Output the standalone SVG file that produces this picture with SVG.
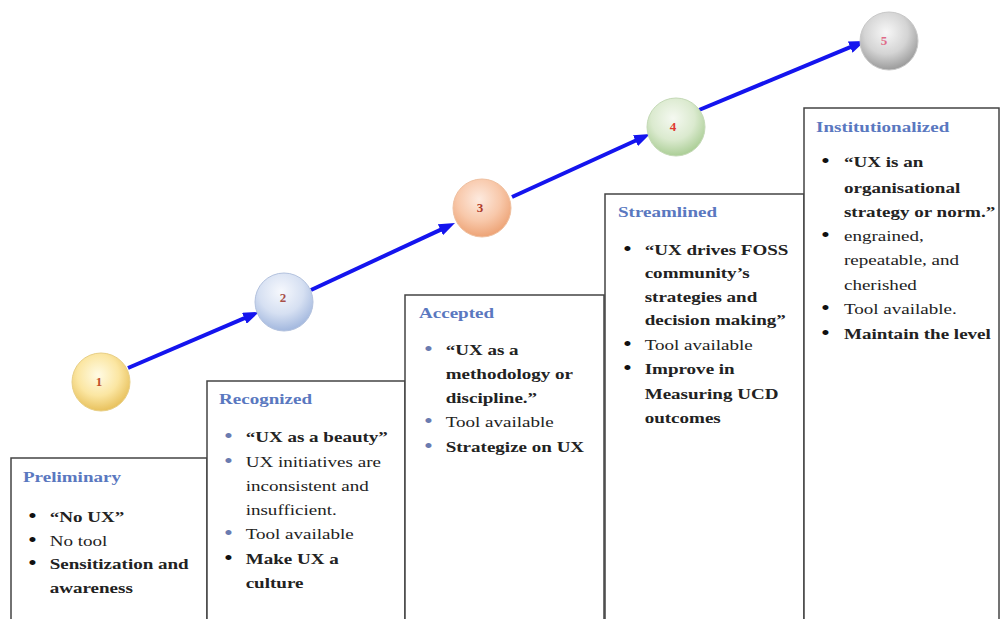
<svg xmlns="http://www.w3.org/2000/svg" width="1000" height="619" viewBox="0 0 1000 619">
  <style>
    .box { fill: #ffffff; stroke: #444444; stroke-width: 1.5; }
    .title { font-family: "Liberation Serif", "Times New Roman", serif; font-size: 15px; font-weight: bold; fill: #5a78c0; }
    .t { font-family: "Liberation Serif", "Times New Roman", serif; font-size: 15px; fill: #222222; }
    .b { font-weight: bold; }
    .dot { font-family: "Liberation Serif", "Times New Roman", serif; font-size: 20px; fill: #111111; }
    .dotb { fill: #6a7bb0; }
    .num { font-family: "Liberation Serif", "Times New Roman", serif; font-size: 13px; font-weight: bold; text-anchor: middle; }
    .link { fill: none; stroke: #1414ee; stroke-width: 4; marker-end: url(#head); }
    .ball { stroke-width: 1; }
  </style>
  <defs>
    <marker id="head" markerWidth="4" markerHeight="3" refX="1" refY="1.5" orient="auto" markerUnits="strokeWidth">
      <path d="M0,0 L4,1.5 L0,3 z" fill="#1414ee"/>
    </marker>
    <radialGradient id="g1" cx="0.45" cy="0.38" r="0.65">
      <stop offset="0" stop-color="#fffbe4"/>
      <stop offset="0.55" stop-color="#fbe6a2"/>
      <stop offset="1" stop-color="#e6bd55"/>
    </radialGradient>
    <radialGradient id="g2" cx="0.45" cy="0.32" r="0.7">
      <stop offset="0" stop-color="#f6f8fd"/>
      <stop offset="0.55" stop-color="#d6e0f2"/>
      <stop offset="1" stop-color="#9fb5dd"/>
    </radialGradient>
    <radialGradient id="g3" cx="0.45" cy="0.35" r="0.68">
      <stop offset="0" stop-color="#fdeadf"/>
      <stop offset="0.55" stop-color="#f8c8aa"/>
      <stop offset="1" stop-color="#ec9f70"/>
    </radialGradient>
    <radialGradient id="g4" cx="0.45" cy="0.35" r="0.68">
      <stop offset="0" stop-color="#f5f9f1"/>
      <stop offset="0.55" stop-color="#dbeacf"/>
      <stop offset="1" stop-color="#a6cb90"/>
    </radialGradient>
    <radialGradient id="g5" cx="0.45" cy="0.35" r="0.68">
      <stop offset="0" stop-color="#f7f7f7"/>
      <stop offset="0.55" stop-color="#d4d4d4"/>
      <stop offset="1" stop-color="#959595"/>
    </radialGradient>
  </defs>

  <rect width="1000" height="619" fill="#ffffff"/>

  <!-- stage boxes, stepping up to the right -->
  <g id="stage-preliminary">
    <rect class="box" x="11" y="458" width="196" height="170"/>
    <g transform="translate(23 0) scale(1.27 1)">
      <text class="title" x="0" y="482">Preliminary</text>
      <text class="dot" x="4" y="523">•</text><text class="t b" x="21" y="522">“No UX”</text>
      <text class="dot" x="4" y="547">•</text><text class="t" x="21" y="546">No tool</text>
      <text class="dot" x="4" y="570">•</text><text class="t b" x="21" y="569">Sensitization and</text>
      <text class="t b" x="21" y="593">awareness</text>
    </g>
  </g>

  <g id="stage-recognized">
    <rect class="box" x="207" y="381" width="198" height="250"/>
    <g transform="translate(219 0) scale(1.27 1)">
      <text class="title" x="0" y="404">Recognized</text>
      <text class="dot dotb" x="4" y="443">•</text><text class="t b" x="21" y="442">“UX as a beauty”</text>
      <text class="dot dotb" x="4" y="468">•</text><text class="t" x="21" y="467">UX initiatives are</text>
      <text class="t" x="21" y="491">inconsistent and</text>
      <text class="t" x="21" y="515">insufficient.</text>
      <text class="dot dotb" x="4" y="540">•</text><text class="t" x="21" y="539">Tool available</text>
      <text class="dot" x="4" y="565">•</text><text class="t b" x="21" y="564">Make UX a</text>
      <text class="t b" x="21" y="588">culture</text>
    </g>
  </g>

  <g id="stage-accepted">
    <rect class="box" x="405" y="295" width="199" height="340"/>
    <g transform="translate(419 0) scale(1.27 1)">
      <text class="title" x="0" y="318">Accepted</text>
      <text class="dot dotb" x="4" y="356">•</text><text class="t b" x="21" y="355">“UX as a</text>
      <text class="t b" x="21" y="379">methodology or</text>
      <text class="t b" x="21" y="403">discipline.”</text>
      <text class="dot dotb" x="4" y="428">•</text><text class="t" x="21" y="427">Tool available</text>
      <text class="dot dotb" x="4" y="453">•</text><text class="t b" x="21" y="452">Strategize on UX</text>
    </g>
  </g>

  <g id="stage-streamlined">
    <rect class="box" x="605" y="194" width="199" height="440"/>
    <g transform="translate(618 0) scale(1.27 1)">
      <text class="title" x="0" y="217">Streamlined</text>
      <text class="dot" x="4" y="256">•</text><text class="t b" x="21" y="255">“UX drives FOSS</text>
      <text class="t b" x="21" y="278">community’s</text>
      <text class="t b" x="21" y="302">strategies and</text>
      <text class="t b" x="21" y="325">decision making”</text>
      <text class="dot" x="4" y="351">•</text><text class="t" x="21" y="350">Tool available</text>
      <text class="dot" x="4" y="375">•</text><text class="t b" x="21" y="374">Improve in</text>
      <text class="t b" x="21" y="399">Measuring UCD</text>
      <text class="t b" x="21" y="423">outcomes</text>
    </g>
  </g>

  <g id="stage-institutionalized">
    <rect class="box" x="804" y="108" width="195" height="530"/>
    <g transform="translate(816 0) scale(1.27 1)">
      <text class="title" x="0" y="132">Institutionalized</text>
      <text class="dot" x="4" y="168">•</text><text class="t b" x="22" y="167">“UX is an</text>
      <text class="t b" x="22" y="193">organisational</text>
      <text class="t b" x="22" y="217">strategy or norm.”</text>
      <text class="dot" x="4" y="242">•</text><text class="t" x="22" y="241">engrained,</text>
      <text class="t" x="22" y="265">repeatable, and</text>
      <text class="t" x="22" y="290">cherished</text>
      <text class="dot" x="4" y="315">•</text><text class="t" x="22" y="314">Tool available.</text>
      <text class="dot" x="4" y="340">•</text><text class="t b" x="22" y="339">Maintain the level</text>
    </g>
  </g>

  <!-- arrows between level markers -->
  <g id="connectors">
    <line class="link" x1="128" y1="368" x2="248" y2="316.7"/>
    <line class="link" x1="311" y1="290" x2="444.1" y2="228.1"/>
    <line class="link" x1="512" y1="197" x2="639.1" y2="139"/>
    <line class="link" x1="699" y1="110" x2="853.9" y2="45.6"/>
  </g>

  <!-- level markers -->
  <g id="level-1">
    <circle class="ball" cx="101" cy="382" r="29" fill="url(#g1)" stroke="#e8cf86"/>
    <text class="num" x="99" y="386" fill="#c0502a">1</text>
  </g>
  <g id="level-2">
    <circle class="ball" cx="284" cy="302" r="29" fill="url(#g2)" stroke="#b3c2de"/>
    <text class="num" x="283" y="302" fill="#a8504a">2</text>
  </g>
  <g id="level-3">
    <circle class="ball" cx="482" cy="208" r="29" fill="url(#g3)" stroke="#efc0a0"/>
    <text class="num" x="480" y="212" fill="#b03a2a">3</text>
  </g>
  <g id="level-4">
    <circle class="ball" cx="676" cy="127" r="29" fill="url(#g4)" stroke="#c4d9b6"/>
    <text class="num" x="673" y="131" fill="#e03a30">4</text>
  </g>
  <g id="level-5">
    <circle class="ball" cx="889" cy="41" r="29" fill="url(#g5)" stroke="#c8c8c8"/>
    <text class="num" x="884" y="45" fill="#e06a88">5</text>
  </g>
</svg>
